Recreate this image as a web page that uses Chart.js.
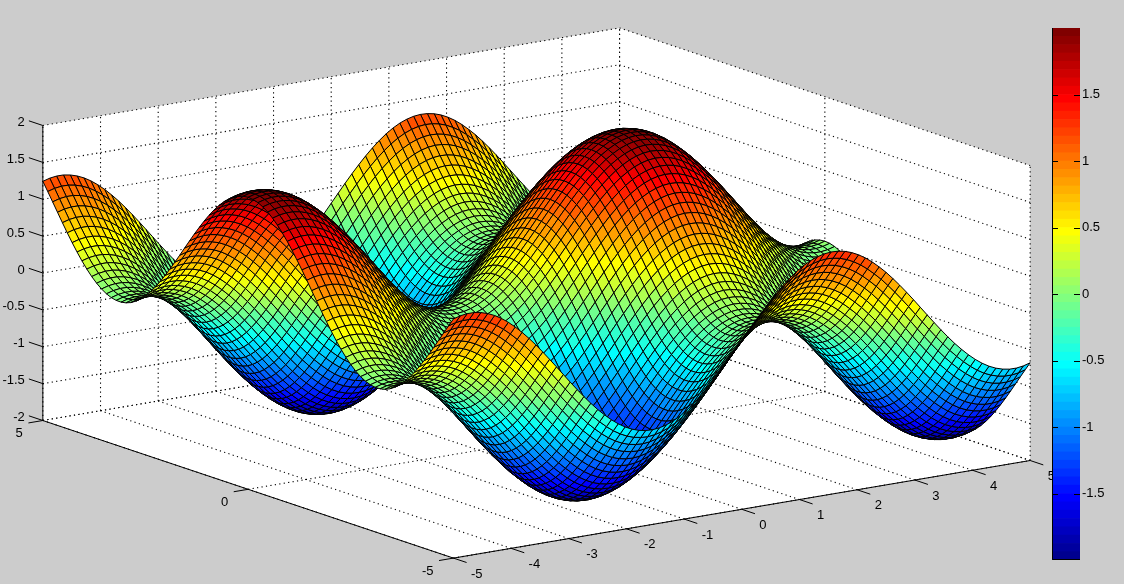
<html>
    <head>
        <style>
            body { margin: 0; background: #cccccc; }
            canvas { position: absolute; display: block; }
        </style>
        <script type="text/javascript" src="https://cdn.jsdelivr.net/npm/chart.js@4/dist/chart.umd.js"></script>
    </head>
    <body>
        <canvas id="surfaceChart" width="1124" height="584" style="left:0;top:0"></canvas>
        <canvas id="colorbarChart" width="84" height="552" style="left:1040px;top:18px"></canvas>
        <script type="text/javascript">
// grid of the surface
var xValues = [-5,-4.881,-4.762,-4.643,-4.524,-4.405,-4.286,-4.167,-4.048,-3.929,-3.81,-3.69,-3.571,-3.452,-3.333,-3.214,-3.095,-2.976,-2.857,-2.738,-2.619,-2.5,-2.381,-2.262,-2.143,-2.024,-1.905,-1.786,-1.667,-1.548,-1.429,-1.31,-1.19,-1.071,-0.952,-0.833,-0.714,-0.595,-0.476,-0.357,-0.238,-0.119,0,0.119,0.238,0.357,0.476,0.595,0.714,0.833,0.952,1.071,1.19,1.31,1.429,1.548,1.667,1.786,1.905,2.024,2.143,2.262,2.381,2.5,2.619,2.738,2.857,2.976,3.095,3.214,3.333,3.452,3.571,3.69,3.81,3.929,4.048,4.167,4.286,4.405,4.524,4.643,4.762,4.881,5];
var yValues = xValues;
// heights. each row is the same curve shifted up or down,
// so keep the curve along x and the shift along y, the table is built from these
var heightAlongX = [0.959,0.986,0.999,0.998,0.982,0.953,0.911,0.855,0.787,0.708,0.619,0.522,0.417,0.306,0.191,0.073,-0.046,-0.165,-0.281,-0.393,-0.499,-0.599,-0.688,-0.770,-0.841,-0.899,-0.945,-0.977,-0.995,-1.000,-0.990,-0.966,-0.929,-0.878,-0.815,-0.740,-0.655,-0.561,-0.458,-0.350,-0.236,-0.119,0,0.119,0.236,0.350,0.458,0.561,0.655,0.740,0.815,0.878,0.929,0.966,0.990,1.000,0.995,0.977,0.945,0.899,0.841,0.770,0.688,0.599,0.499,0.393,0.281,0.165,0.046,-0.073,-0.191,-0.306,-0.417,-0.522,-0.619,-0.708,-0.787,-0.855,-0.911,-0.953,-0.982,-0.998,-0.999,-0.986,-0.959];
var heightAlongY = [0.284,0.168,0.050,-0.069,-0.188,-0.303,-0.414,-0.519,-0.617,-0.706,-0.785,-0.853,-0.909,-0.952,-0.982,-0.997,-0.999,-0.986,-0.960,-0.920,-0.867,-0.801,-0.725,-0.638,-0.542,-0.437,-0.328,-0.213,-0.096,0.023,0.142,0.259,0.371,0.479,0.580,0.672,0.756,0.828,0.889,0.937,0.972,0.993,1.000,0.993,0.972,0.937,0.889,0.828,0.756,0.672,0.580,0.479,0.371,0.259,0.142,0.023,-0.096,-0.213,-0.328,-0.437,-0.542,-0.638,-0.725,-0.801,-0.867,-0.920,-0.960,-0.986,-0.999,-0.997,-0.982,-0.952,-0.909,-0.853,-0.785,-0.706,-0.617,-0.519,-0.414,-0.303,-0.188,-0.069,0.050,0.168,0.284];

var xTicks = [-5,-4,-3,-2,-1,0,1,2,3,4,5];
var yTicks = [-5,0,5];
var zTicks = [-2,-1.5,-1,-0.5,0,0.5,1,1.5,2];
var colorTicks = [-1.5,-1,-0.5,0,0.5,1,1.5];
var colorLimits = [-2,2];

// view of the 3d box, in pixels per data unit
var view = {
    originX: 536.5, originY: 293,
    xStep: [57.67,-9.76],
    yStep: [-41.06,-13.76],
    zStep: 73.75
};

function project(x, y, z)
{
    return {
        x: view.originX + x*view.xStep[0] + y*view.yStep[0],
        y: view.originY + x*view.xStep[1] + y*view.yStep[1] - z*view.zStep
    };
}

function jet(k)
{
    var t = (k+1)/64;
    function part(c) { return Math.round(255*Math.max(0, Math.min(1, 1.5-Math.abs(4*t-c)))); }
    return "rgb("+part(3)+","+part(2)+","+part(1)+")";
}

function colorOf(z)
{
    var k = Math.floor((z-colorLimits[0])/(colorLimits[1]-colorLimits[0])*64);
    return jet(Math.max(0, Math.min(63, k)));
}

function lineSet(a, b, dash, width)
{
    return {
        data: [project(a[0],a[1],a[2]), project(b[0],b[1],b[2])],
        showLine: true, pointRadius: 0, borderColor: "#000000", borderWidth: width,
        borderDash: dash, fill: false
    };
}

var datasets = [];
var zTable = [];
var i, j;
for(i = 0; i < xValues.length; i++)
{
    zTable.push([]);
    for(j = 0; j < yValues.length; j++)
    {
        zTable[i].push(heightAlongX[i] + heightAlongY[j]);
    }
}

// dataset 0 is painted last, so the cells nearest the viewer come first
for(i = 0; i < xValues.length-1; i++)
{
    for(j = 0; j < yValues.length-1; j++)
    {
        datasets.push({
            data: [
                project(xValues[i],yValues[j],zTable[i][j]),
                project(xValues[i+1],yValues[j],zTable[i+1][j]),
                project(xValues[i+1],yValues[j+1],zTable[i+1][j+1]),
                project(xValues[i],yValues[j+1],zTable[i][j+1]),
                project(xValues[i],yValues[j],zTable[i][j])
            ],
            showLine: true, pointRadius: 0, borderColor: "#000000", borderWidth: 1,
            backgroundColor: colorOf(zTable[i][j]), fill: "shape"
        });
    }
}

var xMin = xTicks[0], xMax = xTicks[xTicks.length-1];
var yMin = yTicks[0], yMax = yTicks[yTicks.length-1];
var zMin = zTicks[0], zMax = zTicks[zTicks.length-1];

// solid box edges and tick marks
datasets.push(lineSet([xMin,yMax,zMin],[xMin,yMax,zMax],[],1));
datasets.push(lineSet([xMin,yMax,zMin],[xMin,yMin,zMin],[],1));
datasets.push(lineSet([xMin,yMin,zMin],[xMax,yMin,zMin],[],1));
xTicks.forEach(function(x) { datasets.push(lineSet([x,yMin,zMin],[x,yMin-0.32,zMin],[],1)); });
yTicks.forEach(function(y) { datasets.push(lineSet([xMin,y,zMin],[xMin-0.25,y,zMin],[],1)); });
zTicks.forEach(function(z) { datasets.push(lineSet([xMin,yMax,z],[xMin,yMax+0.34,z],[],1)); });

// dotted grid on the floor and the two back walls
var dots = [1.2,3.3];
xTicks.forEach(function(x) {
    datasets.push(lineSet([x,yMin,zMin],[x,yMax,zMin],dots,1.1));
    datasets.push(lineSet([x,yMax,zMin],[x,yMax,zMax],dots,1.1));
});
yTicks.forEach(function(y) {
    datasets.push(lineSet([xMin,y,zMin],[xMax,y,zMin],dots,1.1));
    datasets.push(lineSet([xMax,y,zMin],[xMax,y,zMax],dots,1.1));
});
zTicks.forEach(function(z) {
    datasets.push(lineSet([xMin,yMax,z],[xMax,yMax,z],dots,1.1));
    datasets.push(lineSet([xMax,yMax,z],[xMax,yMin,z],dots,1.1));
});

// white back of the box
datasets.push({
    data: [
        project(xMin,yMax,zMin), project(xMin,yMax,zMax), project(xMax,yMax,zMax),
        project(xMax,yMin,zMax), project(xMax,yMin,zMin), project(xMin,yMin,zMin),
        project(xMin,yMax,zMin)
    ],
    showLine: true, pointRadius: 0, borderWidth: 0, borderColor: "#ffffff",
    backgroundColor: "#ffffff", fill: "shape"
});

var tickFont = "13px 'Liberation Sans', Arial, sans-serif";

var tickLabels = {
    id: "tickLabels",
    afterDraw: function(chart) {
        var ctx = chart.ctx;
        var sx = chart.scales.x, sy = chart.scales.y;
        function put(text, p, dx, dy, align) {
            ctx.textAlign = align;
            ctx.fillText(text, sx.getPixelForValue(p.x)+dx, sy.getPixelForValue(p.y)+dy);
        }
        ctx.save();
        ctx.font = tickFont;
        ctx.fillStyle = "#000000";
        ctx.textBaseline = "middle";
        xTicks.forEach(function(x) { put(String(x), project(x,yMin,zMin), 17.5, 16, "left"); });
        yTicks.forEach(function(y) { put(String(y), project(xMin,y,zMin), -20, 13, "right"); });
        zTicks.forEach(function(z) { put(String(z), project(xMin,yMax,z), -18, -3, "right"); });
        ctx.restore();
    }
};

new Chart(document.getElementById("surfaceChart").getContext("2d"), {
    type: "scatter",
    data: { datasets: datasets },
    plugins: [tickLabels],
    options: {
        responsive: false,
        animation: false,
        events: [],
        parsing: false,
        normalized: true,
        layout: { padding: 0 },
        plugins: { legend: { display: false }, tooltip: { enabled: false } },
        scales: {
            x: { type: "linear", display: false, min: 0, max: 1124 },
            y: { type: "linear", display: false, min: 0, max: 584, reverse: true }
        }
    }
});

// colorbar, one floating bar for each of the 64 colors
var bandSets = [];
for(i = 0; i < 64; i++)
{
    var size = (colorLimits[1]-colorLimits[0])/64;
    bandSets.push({
        data: [[colorLimits[0]+i*size, colorLimits[0]+(i+1)*size]],
        backgroundColor: jet(i),
        borderWidth: 0
    });
}

var colorbarFrame = {
    id: "colorbarFrame",
    afterDatasetsDraw: function(chart) {
        var ctx = chart.ctx;
        var a = chart.chartArea;
        var sy = chart.scales.y;
        ctx.save();
        ctx.strokeStyle = "#000000";
        ctx.lineWidth = 1;
        ctx.beginPath();
        ctx.moveTo(a.left+0.5, a.top);
        ctx.lineTo(a.left+0.5, a.bottom-0.5);
        ctx.lineTo(a.right, a.bottom-0.5);
        colorTicks.forEach(function(v) {
            var p = Math.round(sy.getPixelForValue(v))+0.5;
            ctx.moveTo(a.left, p);
            ctx.lineTo(a.left+6, p);
            ctx.moveTo(a.right-6, p);
            ctx.lineTo(a.right, p);
        });
        ctx.stroke();
        ctx.restore();
    }
};

new Chart(document.getElementById("colorbarChart").getContext("2d"), {
    type: "bar",
    data: { labels: ["z"], datasets: bandSets },
    plugins: [colorbarFrame],
    options: {
        responsive: false,
        animation: false,
        events: [],
        grouped: false,
        barPercentage: 1,
        categoryPercentage: 1,
        layout: { padding: { left: 12, top: 10, right: 0, bottom: 10 } },
        plugins: { legend: { display: false }, tooltip: { enabled: false } },
        scales: {
            x: { display: false },
            y: {
                position: "right",
                min: colorLimits[0],
                max: colorLimits[1],
                border: { display: false },
                grid: { display: false, drawTicks: false },
                afterBuildTicks: function(scale) {
                    scale.ticks = colorTicks.map(function(v) { return { value: v }; });
                },
                afterFit: function(scale) { scale.width = 44; },
                ticks: {
                    color: "#000000",
                    padding: 2,
                    font: { family: "'Liberation Sans', Arial, sans-serif", size: 13 },
                    callback: function(v) { return String(v); }
                }
            }
        }
    }
});
        </script>
    </body>
</html>
